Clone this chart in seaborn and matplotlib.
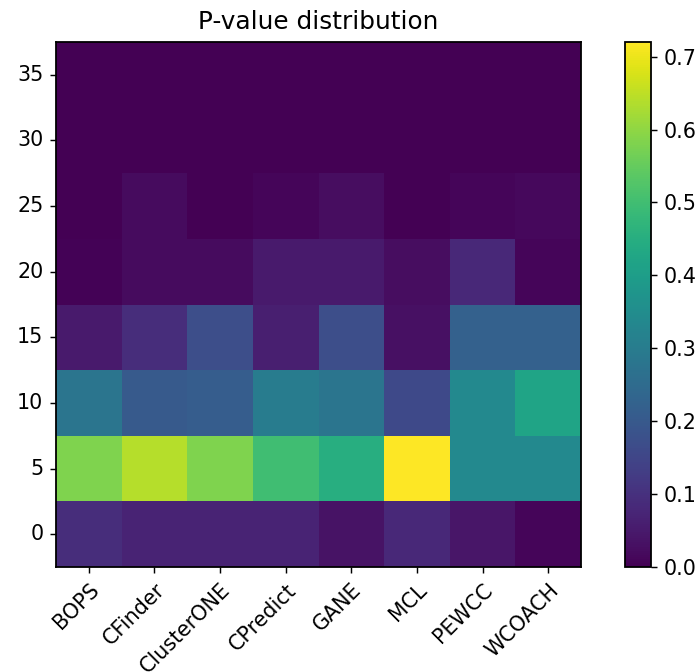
import numpy as np
import pandas as pd
import matplotlib
matplotlib.use("Agg")
import matplotlib.pyplot as plt
import seaborn as sns

# algorithms (columns) and p-value bins (rows, bottom to top)
algorithms = ["BOPS", "CFinder", "ClusterONE", "CPredict", "GANE", "MCL", "PEWCC", "WCOACH"]
bins = [0, 5, 10, 15, 20, 25, 30, 35]

# fraction of clusters per bin, one list per bin
row_0 = [0.09, 0.07, 0.07, 0.07, 0.035, 0.08, 0.04, 0.01]
row_5 = [0.58, 0.64, 0.58, 0.50, 0.45, 0.72, 0.34, 0.34]
row_10 = [0.28, 0.20, 0.21, 0.30, 0.28, 0.16, 0.34, 0.42]
row_15 = [0.05, 0.09, 0.17, 0.06, 0.17, 0.03, 0.22, 0.22]
row_20 = [0.005, 0.02, 0.02, 0.05, 0.05, 0.025, 0.08, 0.01]
row_25 = [0.0, 0.02, 0.0, 0.01, 0.025, 0.0, 0.01, 0.015]
row_30 = [0.0, 0.0, 0.0, 0.0, 0.0, 0.0, 0.0, 0.0]
row_35 = [0.0, 0.0, 0.0, 0.0, 0.0, 0.0, 0.0, 0.0]

df = pd.DataFrame([row_0, row_5, row_10, row_15, row_20, row_25, row_30, row_35],
                  index=bins, columns=algorithms)

plt.rcParams["font.size"] = 11.4

fig = plt.figure(figsize=(700 / 130, 672 / 130), dpi=130)
ax = fig.add_axes([0.08, 0.1562, 0.75, 0.7813])
cax = fig.add_axes([0.893, 0.1562, 0.037, 0.7813])

sns.heatmap(df, ax=ax, cbar_ax=cax, cmap="viridis", vmin=0, vmax=df.values.max(),
            xticklabels=algorithms, yticklabels=bins)
ax.invert_yaxis()

for s in ax.spines.values():
    s.set_visible(True)
    s.set_color("black")
    s.set_linewidth(1.0)
ax.tick_params(axis="both", length=3.5, width=0.8, color="black", labelsize=11.4)
plt.setp(ax.get_xticklabels(), rotation=45, ha="right", rotation_mode="anchor")
plt.setp(ax.get_yticklabels(), rotation=0)
ax.set_xlabel("")
ax.set_ylabel("")
ax.set_title("P-value distribution", fontsize=13.7, pad=7)

cbar = ax.collections[0].colorbar
cbar.outline.set_visible(True)
cbar.outline.set_edgecolor("black")
cbar.outline.set_linewidth(1.0)
cbar.set_ticks([0.0, 0.1, 0.2, 0.3, 0.4, 0.5, 0.6, 0.7])
cbar.ax.tick_params(length=3.5, width=0.8, labelsize=11.4)

fig.savefig("out.png", dpi=130)
